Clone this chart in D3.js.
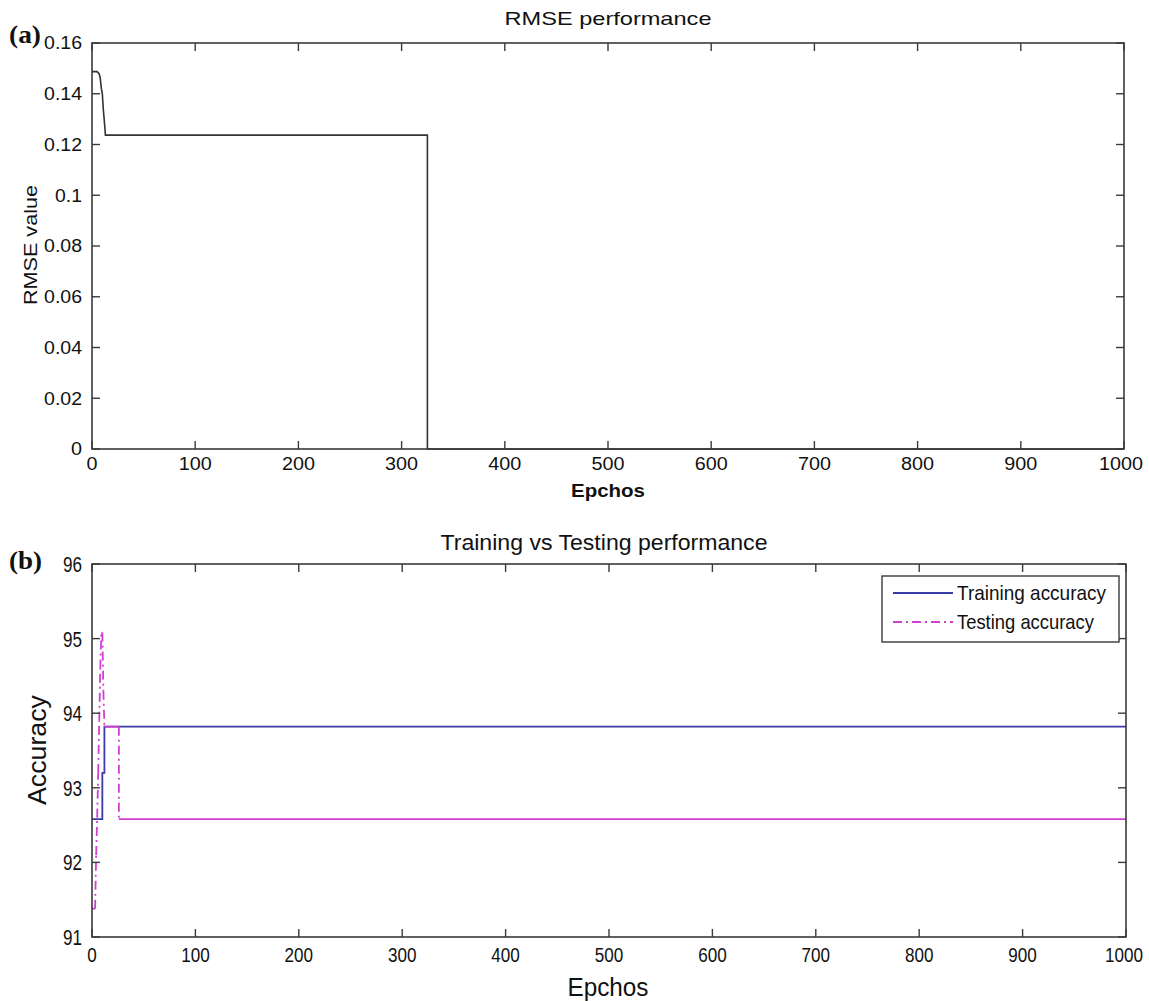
<!DOCTYPE html>
<html>
<head>
<meta charset="utf-8">
<script src="https://cdn.jsdelivr.net/npm/d3@7"></script>
<style>
  body { margin: 0; background: #fff; }
  svg text { fill: #111; }
  .wide { font-family: "Liberation Sans", Arial, sans-serif; }
  .narrow { font-family: "Liberation Sans Narrow", "Arial Narrow", "Liberation Sans", sans-serif; }
  .tag { font-family: "Liberation Serif", "Times New Roman", serif; font-weight: bold; }
</style>
</head>
<body>
<svg id="chart" width="1149" height="1001"></svg>
<script>
// ---- data ----
const epochTicks = [0, 100, 200, 300, 400, 500, 600, 700, 800, 900, 1000];

// RMSE per epoch (change points only)
const rmseEpoch = [0, 5, 7, 8, 9, 10, 11, 12, 13, 325, 325, 1000];
const rmseValue = [0.1487, 0.1487, 0.1478, 0.1462, 0.1422, 0.1400, 0.1336, 0.1290, 0.1237, 0.1237, 0, 0];
const rmseTicks = [0, 0.02, 0.04, 0.06, 0.08, 0.1, 0.12, 0.14, 0.16];

// accuracy (change points only)
const trainEpoch = [0, 10, 10, 12, 12, 1000];
const trainValue = [92.58, 92.58, 93.2, 93.2, 93.82, 93.82];
const testEpoch = [0, 3, 4, 5, 6, 7, 8, 9, 10, 11, 12, 26, 26, 1000];
const testValue = [91.38, 91.38, 92.1, 92.6, 93.2, 93.9, 94.6, 95.08, 95.08, 94.3, 93.82, 93.82, 92.58, 92.58];
const accTicks = [91, 92, 93, 94, 95, 96];

const seriesNames = ["Training accuracy", "Testing accuracy"];

const W = 1149;
const svg = d3.select("#chart");
const axisColor = "#3a3a3a";

// text helper; len squeezes/stretches the glyphs to the measured width
function label(g, cls, x, y, fs, txt, opts = {}) {
  const t = g.append("text").attr("class", cls).attr("x", x).attr("y", y)
    .attr("font-size", fs).attr("text-anchor", opts.anchor || "middle").text(txt);
  if (opts.len) t.attr("textLength", opts.len).attr("lengthAdjust", "spacingAndGlyphs");
  if (opts.bold) t.attr("font-weight", "bold");
  if (opts.rotate) t.attr("transform", `rotate(-90,${x},${y})`);
  return t;
}

function drawFrame(g, x, y, xt, yt, yFmt, opt) {
  const [x0, x1] = x.range();
  const [y0, y1] = y.range();
  const tl = 8;
  g.append("rect").attr("x", x0).attr("y", y1).attr("width", x1 - x0).attr("height", y0 - y1)
    .attr("fill", "none").attr("stroke", axisColor).attr("stroke-width", 1.6);
  xt.forEach(t => {
    const px = x(t);
    g.append("line").attr("x1", px).attr("x2", px).attr("y1", y0).attr("y2", y0 - tl).attr("stroke", axisColor).attr("stroke-width", 1.4);
    g.append("line").attr("x1", px).attr("x2", px).attr("y1", y1).attr("y2", y1 + tl).attr("stroke", axisColor).attr("stroke-width", 1.4);
    const s = String(t);
    const len = s.length * opt.cw;
    // keep the last label inside the page
    const cx = Math.min(px, W - 6 - len / 2);
    label(g, opt.cls, cx, y0 + opt.xLabelDy, opt.xfs || opt.fs, s, { len: len });
  });
  yt.forEach(t => {
    const py = y(t);
    g.append("line").attr("x1", x0).attr("x2", x0 + tl).attr("y1", py).attr("y2", py).attr("stroke", axisColor).attr("stroke-width", 1.4);
    g.append("line").attr("x1", x1).attr("x2", x1 - tl).attr("y1", py).attr("y2", py).attr("stroke", axisColor).attr("stroke-width", 1.4);
    const s = yFmt(t);
    label(g, opt.cls, x0 - opt.yGap, py + opt.fs * 0.36, opt.fs, s,
      { anchor: "end", len: [...s].reduce((a, c) => a + (c === "." ? opt.cw * 0.45 : opt.cw), 0) });
  });
}

// ---------- panel (a) ----------
const xa = d3.scaleLinear().domain([0, 1000]).range([92, 1124]);
const ya = d3.scaleLinear().domain([0, 0.16]).range([449, 43]);
const ga = svg.append("g");

ga.append("path")
  .datum(rmseEpoch.map((e, i) => [e, rmseValue[i]]))
  .attr("fill", "none").attr("stroke", "#333").attr("stroke-width", 1.6)
  .attr("d", d3.line().x(d => xa(d[0])).y(d => ya(d[1])));

drawFrame(ga, xa, ya, epochTicks, rmseTicks, d => d === 0 ? "0" : String(d),
  { cls: "wide", fs: 18, xfs: 18, xLabelDy: 21, cw: 11, yGap: 10 });

label(ga, "wide", 608, 25, 19, "RMSE performance", { len: 207 });
label(ga, "wide", 608, 497, 18, "Epchos", { len: 74, bold: true });
label(ga, "wide", 37, 245, 18, "RMSE value", { len: 120, rotate: true });
label(ga, "tag", 9, 43, 26, "(a)", { anchor: "start", len: 32 });

// ---------- panel (b) ----------
const xb = d3.scaleLinear().domain([0, 1000]).range([92, 1126]);
const yb = d3.scaleLinear().domain([91, 96]).range([937, 564]);
const gb = svg.append("g");
svg.append("clipPath").attr("id", "clipb").append("rect")
  .attr("x", 92).attr("y", 564).attr("width", 1034).attr("height", 373);

const trainColor = "#3b3ba8";
const testColor = "#d13fd1";

gb.append("path")
  .datum(trainEpoch.map((e, i) => [e, trainValue[i]]))
  .attr("clip-path", "url(#clipb)")
  .attr("fill", "none").attr("stroke", trainColor).attr("stroke-width", 1.8)
  .attr("d", d3.line().x(d => xb(d[0])).y(d => yb(d[1])));

// testing: flat runs drawn solid, jumps drawn dash-dot (as the plotting tool renders it)
const testPts = testEpoch.map((e, i) => [e, testValue[i]]);
d3.pairs(testPts).forEach(([a, b]) => {
  const flat = a[1] === b[1];
  gb.append("line").attr("clip-path", "url(#clipb)")
    .attr("x1", xb(a[0])).attr("y1", yb(a[1])).attr("x2", xb(b[0])).attr("y2", yb(b[1]))
    .attr("stroke", testColor).attr("stroke-width", 1.8)
    .attr("stroke-dasharray", flat ? null : "9,4,2,4");
});

drawFrame(gb, xb, yb, epochTicks, accTicks, d => String(d),
  { cls: "narrow", fs: 22, xfs: 20, xLabelDy: 25, cw: 9.5, yGap: 10 });

label(gb, "narrow", 604, 550, 22, "Training vs Testing performance", { len: 327 });
label(gb, "narrow", 608, 996, 25, "Epchos", { len: 81 });
label(gb, "narrow", 46, 750, 25, "Accuracy", { len: 110, rotate: true });
label(gb, "tag", 9, 569, 26, "(b)", { anchor: "start", len: 33 });

// legend
const lg = gb.append("g").attr("transform", "translate(882,576)");
lg.append("rect").attr("width", 237).attr("height", 66).attr("fill", "#fff")
  .attr("stroke", axisColor).attr("stroke-width", 1.4);
const legendLen = [149, 137];
seriesNames.forEach((name, i) => {
  const yy = 17 + i * 29;
  lg.append("line").attr("x1", 11).attr("x2", 71).attr("y1", yy).attr("y2", yy)
    .attr("stroke", i === 0 ? trainColor : testColor).attr("stroke-width", 1.8)
    .attr("stroke-dasharray", i === 0 ? null : "9,4,2,4");
  label(lg, "narrow", 75, yy + 7, 21, name, { anchor: "start", len: legendLen[i] });
});
</script>
</body>
</html>
